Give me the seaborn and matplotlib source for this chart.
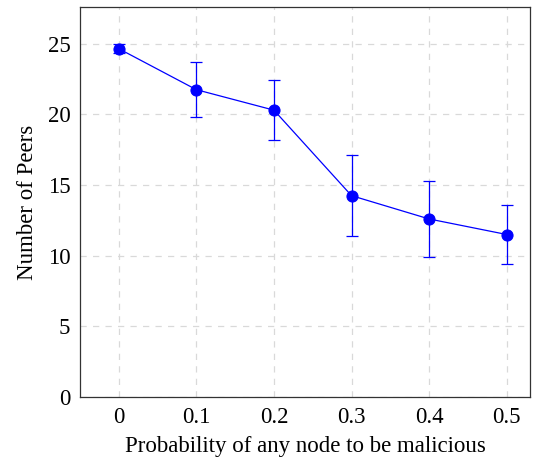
import matplotlib
matplotlib.use("Agg")
import matplotlib.pyplot as plt
import seaborn as sns
import pandas as pd

prob = [0, 0.1, 0.2, 0.3, 0.4, 0.5]
peers = [24.65, 21.75, 20.3, 14.25, 12.6, 11.5]
err = [0.3, 1.95, 2.1, 2.85, 2.7, 2.1]
xticks = [0, 0.1, 0.2, 0.3, 0.4, 0.5]
xticklabels = ["0", "0.1", "0.2", "0.3", "0.4", "0.5"]
yticks = [0, 5, 10, 15, 20, 25]

sns.set_style("white")
plt.rcParams['font.family'] = ['Liberation Serif', 'DejaVu Serif']
plt.rcParams['text.color'] = 'black'
plt.rcParams['axes.labelcolor'] = 'black'
plt.rcParams['xtick.labelcolor'] = 'black'
plt.rcParams['ytick.labelcolor'] = 'black'

df = pd.DataFrame({"prob": prob, "peers": peers})

fig = plt.figure(figsize=(5.43, 4.61), dpi=100)
ax = fig.add_axes([0.1473, 0.1388, 0.976 - 0.1473, 0.9848 - 0.1388])

ax.errorbar(prob, peers, yerr=err, fmt='none', ecolor='blue', elinewidth=0.9,
            capsize=4, capthick=0.9, zorder=3)
sns.lineplot(data=df, x="prob", y="peers", ax=ax, color='blue', marker='o',
             markersize=8, markeredgecolor='blue', linewidth=0.9, zorder=4)

ax.set_xlim(-0.05, 0.53)
ax.set_ylim(0, 27.6)
ax.set_xticks(xticks)
ax.set_xticklabels(xticklabels)
ax.set_yticks(yticks)
ax.grid(True, color='#d9d9d9', linestyle=(0, (5, 5)), linewidth=0.9)
ax.tick_params(direction='in', length=4, color='#888888', labelsize=16.5,
               pad=7, top=False, right=False)
for s in ax.spines.values():
    s.set_color('#333333')
    s.set_linewidth(0.9)
ax.set_xlabel("Probability of any node to be malicious", fontsize=16.5, labelpad=6)
ax.set_ylabel("Number of Peers", fontsize=16.5, labelpad=7)

fig.savefig("out.png", dpi=100)
